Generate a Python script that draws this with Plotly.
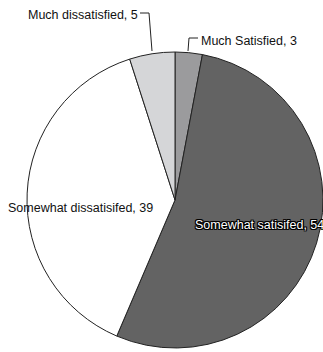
import plotly.graph_objects as go

# Satisfaction survey responses
labels = ["Much Satisfied", "Somewhat satisifed", "Somewhat dissatisifed", "Much dissatisfied"]
values = [3, 54, 39, 5]
colors = ["#9b9b9d", "#636363", "#ffffff", "#d5d6d8"]

W, H = 323, 352

def px(x, y):
    """Convert pixel coordinates (from top-left) to paper coordinates."""
    return x / W, 1 - y / H

fig = go.Figure(go.Pie(
    labels=labels,
    values=values,
    sort=False,
    direction="clockwise",
    rotation=0,
    marker=dict(colors=colors, line=dict(color="#222222", width=1)),
    textinfo="none",
    hoverinfo="label+value",
    showlegend=False,
    domain=dict(x=[27 / W, 1], y=[2 / H, 302 / H]),
))

font = dict(family="Liberation Sans, Arial, sans-serif", size=12.5, color="#111111")
outline = ("1px 0 0 #000, -1px 0 0 #000, 0 1px 0 #000, 0 -1px 0 #000, "
           "1px 1px 0 #000, -1px -1px 0 #000, 1px -1px 0 #000, -1px 1px 0 #000")

# label anchor points (pixels) for each slice
label_pos = {
    "Much Satisfied": (201, 41, "left", font),
    "Somewhat satisifed": (195, 225, "left", dict(font, color="#ffffff", shadow=outline)),
    "Somewhat dissatisifed": (8, 208, "left", font),
    "Much dissatisfied": (138, 15, "right", font),
}

annotations = []
for lab, val in zip(labels, values):
    x, y, anchor, f = label_pos[lab]
    ax, ay = px(x, y)
    annotations.append(dict(
        text=f"{lab}, {val}", x=ax, y=ay, xref="paper", yref="paper",
        xanchor=anchor, yanchor="middle", showarrow=False, font=f,
        borderpad=0, borderwidth=0,
    ))

# leader lines for the two small slices
shapes = []
for pts in ([(140, 13), (149, 13), (152, 51)], [(198, 38), (189, 38), (188, 51)]):
    path = "M " + " L ".join(f"{px(a, b)[0]},{px(a, b)[1]}" for a, b in pts)
    shapes.append(dict(type="path", path=path, xref="paper", yref="paper",
                       line=dict(color="#222222", width=1)))

fig.update_layout(
    width=W, height=H,
    margin=dict(l=0, r=0, t=0, b=0),
    paper_bgcolor="#ffffff",
    plot_bgcolor="#ffffff",
    annotations=annotations,
    shapes=shapes,
)

fig.write_html("out.html")
